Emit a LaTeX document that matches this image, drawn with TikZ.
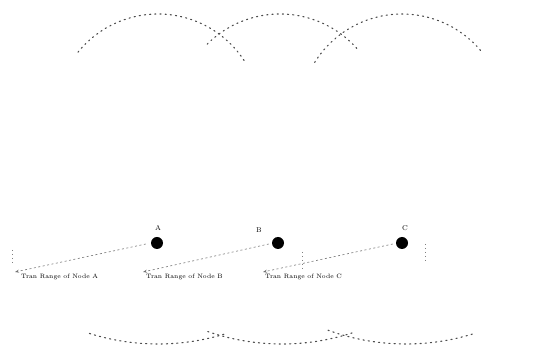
\documentclass[tikz,border=0pt]{standalone}
\usetikzlibrary{arrows.meta}
\begin{document}
\begin{tikzpicture}[x=1pt,y=1pt,
  rangearc/.style={draw=black!70, line width=1.1pt, dash pattern=on 1.2pt off 4pt, line cap=round},
  rangeline/.style={draw=black!55, line width=0.6pt, dash pattern=on 2pt off 2.5pt, -{Stealth[length=4pt,width=3pt]}},
  vtick/.style={draw=black!50, line width=0.8pt, dash pattern=on 1pt off 3pt},
  sensor/.style={circle, fill=black, minimum size=12pt, inner sep=0pt},
  tag/.style={font=\fontsize{7}{8}\selectfont, inner sep=1pt},
  rangetext/.style={font=\fontsize{6.3}{7}\selectfont, inner sep=0pt, anchor=west}]
\useasboundingbox (0,0) rectangle (536,356);
% top arcs
\draw[rangearc] (158,239) ++(141:103pt) arc[start angle=141, end angle=33, radius=103pt];
\draw[rangearc] (280,239) ++(135:103pt) arc[start angle=135, end angle=40, radius=103pt];
\draw[rangearc] (402,239) ++(148:103pt) arc[start angle=148, end angle=39, radius=103pt];
% bottom arcs
\draw[rangearc] (158,240) ++(-107.5:228pt) arc[start angle=-107.5, end angle=-72.5, radius=228pt];
\draw[rangearc] (282,240) ++(-109:228pt) arc[start angle=-109, end angle=-72, radius=228pt];
\draw[rangearc] (406,240) ++(-110:228pt) arc[start angle=-110, end angle=-72.5, radius=228pt];
% sensor nodes
\node[sensor] (A) at (157,113) {};
\node[sensor] (B) at (278,113) {};
\node[sensor] (C) at (402,113) {};
\node[tag] (la) at (158,128) {A};
\node[tag] (lb) at (259,126) {B};
\node[tag] (lc) at (405,128) {C};
% range arrows
\coordinate (ea) at (15,84);
\coordinate (eb) at (143,84);
\coordinate (ec) at (263,84);
\draw[rangeline] (A.west) ++(-5pt,-1pt) -- (ea);
\draw[rangeline] (B.west) ++(-3pt,-1pt) -- (eb);
\draw[rangeline] (C.west) ++(-3pt,-1pt) -- (ec);
\node[rangetext] (ta) at (21,79) {Tran Range of Node A};
\node[rangetext] (tb) at (146,79) {Tran Range of Node B};
\node[rangetext] (tc) at (265,79) {Tran Range of Node C};
% small vertical dotted marks
\coordinate (v1a) at (12,106); \coordinate (v1b) at (12,92);
\coordinate (v2a) at (302,104); \coordinate (v2b) at (302,86);
\coordinate (v3a) at (425,112); \coordinate (v3b) at (425,92);
\draw[vtick] (v1a) -- (v1b);
\draw[vtick] (v2a) -- (v2b);
\draw[vtick] (v3a) -- (v3b);
\end{tikzpicture}
\end{document}
